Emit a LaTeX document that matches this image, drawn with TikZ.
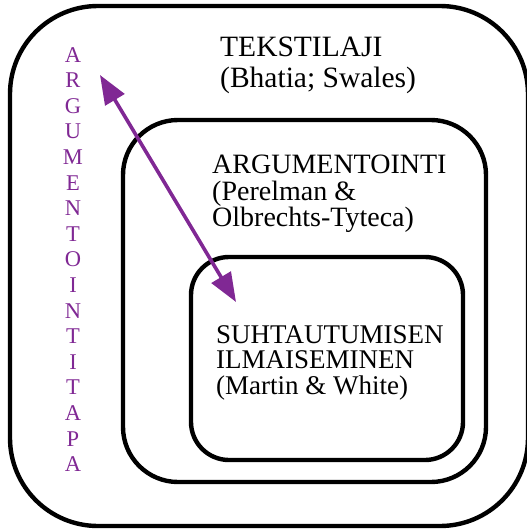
\documentclass[tikz,border=0pt]{standalone}
\usepackage{fontspec}
\setmainfont{Liberation Serif}
\usetikzlibrary{arrows.meta}
\definecolor{violetti}{RGB}{128,40,148}
\begin{document}
\begin{tikzpicture}[x=1pt,y=-1pt,
	laatikko/.style={line width=4.4pt},
	teksti/.style={anchor=north west, align=left, inner sep=0pt}]
	\useasboundingbox (0,0) rectangle (527,530);
	\path
	coordinate (ulko1) at (10,6)
	coordinate (ulko2) at (528,526)
	coordinate (keski1) at (123,120)
	coordinate (keski2) at (486,482)
	coordinate (sisa1) at (191,257)
	coordinate (sisa2) at (463,460)
	coordinate (nuoli1) at (100,75)
	coordinate (nuoli2) at (236,302)
	;
	\draw[laatikko, rounded corners=88pt] (ulko1) rectangle (ulko2);
	\draw[laatikko, rounded corners=55pt] (keski1) rectangle (keski2);
	\draw[laatikko, rounded corners=38pt] (sisa1) rectangle (sisa2);
	\node[teksti, font=\fontsize{29.5}{31}\selectfont] (tekstilaji) at (220,37)
	{TEKSTILAJI\\(Bhatia; Swales)};
	\node[teksti, font=\fontsize{28}{26.5}\selectfont] (argumentointi) at (212,155)
	{ARGUMENTOINTI\\(Perelman \&\\Olbrechts-Tyteca)};
	\node[teksti, font=\fontsize{27}{25.5}\selectfont] (suhtautuminen) at (216,325)
	{SUHTAUTUMISEN\\ILMAISEMINEN\\(Martin \& White)};
	\node[anchor=north, align=center, inner sep=0pt, text=violetti,
	font=\fontsize{22.5}{25.6}\selectfont] (tapa) at (73,47)
	{A\\R\\G\\U\\M\\E\\N\\T\\O\\I\\N\\T\\I\\T\\A\\P\\A};
\draw[violetti, line width=3.6pt, {Triangle[length=29pt,width=22pt]}-{Triangle[length=29pt,width=22pt]}]
(nuoli1) -- (nuoli2);
\end{tikzpicture}
\end{document}
